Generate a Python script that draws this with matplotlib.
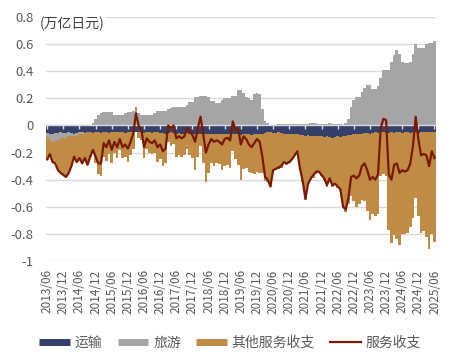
import matplotlib
matplotlib.use('Agg')
import matplotlib.pyplot as plt
from matplotlib.lines import Line2D
import numpy as np
import pandas as pd

plt.rcParams['font.family'] = ['Noto Sans CJK SC', 'DejaVu Sans']

# monthly, 2013/06 - 2025/06, unit: trillion yen
months = pd.date_range('2013-06-01', periods=145, freq='MS')

transport = [
    -0.055, -0.06, -0.06, -0.055, -0.055, -0.05, -0.055,
    -0.055, -0.05, -0.055, -0.06, -0.055, -0.05, -0.05, -0.055, -0.05, -0.05, -0.055, -0.05,
    -0.05, -0.055, -0.05, -0.05, -0.055, -0.05, -0.05, -0.045, -0.05, -0.05, -0.055, -0.05,
    -0.05, -0.05, -0.045, -0.05, -0.05, -0.055, -0.05, -0.05, -0.055, -0.05, -0.05, -0.055,
    -0.055, -0.06, -0.055, -0.05, -0.055, -0.06, -0.055, -0.06, -0.06, -0.055, -0.06, -0.06,
    -0.06, -0.065, -0.06, -0.06, -0.065, -0.06, -0.06, -0.065, -0.06, -0.065, -0.06, -0.065,
    -0.065, -0.06, -0.065, -0.06, -0.065, -0.07, -0.065, -0.06, -0.065, -0.07, -0.065, -0.06,
    -0.065, -0.06, -0.055, -0.05, -0.05, -0.055, -0.055, -0.05, -0.055, -0.06, -0.06, -0.065,
    -0.06, -0.065, -0.065, -0.07, -0.07, -0.075, -0.07, -0.075, -0.08, -0.075, -0.08, -0.08,
    -0.085, -0.08, -0.085, -0.09, -0.085, -0.08, -0.085, -0.08, -0.075, -0.07, -0.07, -0.065,
    -0.065, -0.06, -0.06, -0.055, -0.055, -0.06, -0.055, -0.05, -0.055, -0.05, -0.05, -0.055,
    -0.055, -0.05, -0.055, -0.05, -0.05, -0.055, -0.05, -0.05, -0.055, -0.05, -0.05, -0.055,
    -0.05, -0.05, -0.045, -0.05, -0.05, -0.045,
]

travel = [
    -0.03, -0.05, -0.06, -0.06, -0.05, -0.05, -0.04, -0.04, -0.03, -0.02,
    -0.02, -0.02, -0.01, -0.01, -0.01, 0.0, 0.005, 0.02, 0.05, 0.08,
    0.09, 0.10, 0.10, 0.10, 0.10, 0.08, 0.08, 0.08, 0.08, 0.09,
    0.10, 0.10, 0.11, 0.11, 0.09, 0.08, 0.08, 0.08, 0.08, 0.08,
    0.09, 0.11, 0.11, 0.11, 0.11, 0.12, 0.13, 0.14, 0.14, 0.14,
    0.14, 0.14, 0.15, 0.17, 0.17, 0.21, 0.21, 0.22, 0.22, 0.22,
    0.21, 0.18, 0.18, 0.165, 0.165, 0.19, 0.20, 0.20, 0.20, 0.22,
    0.22, 0.26, 0.26, 0.24, 0.21, 0.20, 0.19, 0.23, 0.24, 0.23,
    0.12, 0.03, 0.015, 0.005, 0.005, 0.005, 0.008, 0.01, 0.01, 0.012,
    0.01, 0.008, 0.008, 0.01, 0.01, 0.01, 0.012, 0.012, 0.015, 0.02,
    0.015, 0.012, 0.01, 0.01, 0.012, 0.015, 0.012, 0.008, 0.01, 0.01,
    0.005, 0.02, 0.05, 0.14, 0.19, 0.21, 0.21, 0.25, 0.28, 0.30,
    0.30, 0.27, 0.27, 0.29, 0.35, 0.41, 0.41, 0.41, 0.47, 0.52,
    0.56, 0.53, 0.47, 0.46, 0.46, 0.47, 0.53, 0.60, 0.57, 0.57,
    0.57, 0.60, 0.61, 0.61, 0.62,
]

# services balance (line)
services = [
    -0.25, -0.21, -0.27, -0.28, -0.33, -0.35, -0.365, -0.38, -0.35, -0.30,
    -0.23, -0.27, -0.24, -0.28, -0.24, -0.29, -0.23, -0.18, -0.23, -0.28,
    -0.28, -0.13, -0.16, -0.11, -0.18, -0.12, -0.16, -0.10, -0.16, -0.14,
    -0.17, -0.12, -0.06, 0.09, 0.0, -0.03, -0.16, -0.095, -0.12, -0.13,
    -0.11, -0.16, -0.14, -0.19, -0.17, 0.0, -0.02, 0.0, -0.095, -0.08,
    -0.095, -0.08, -0.02, -0.045, -0.07, -0.12, -0.02, 0.065, -0.06, -0.20,
    -0.14, -0.10, -0.12, -0.11, -0.12, -0.14, -0.10, -0.09, -0.11, 0.03,
    -0.03, -0.03, -0.14, -0.08, -0.10, -0.14, -0.16, -0.13, -0.10, -0.12,
    -0.23, -0.38, -0.40, -0.45, -0.33, -0.32, -0.31, -0.30, -0.27, -0.28,
    -0.27, -0.25, -0.22, -0.19, -0.32, -0.41, -0.54, -0.43, -0.39, -0.365,
    -0.34, -0.34, -0.365, -0.39, -0.44, -0.39, -0.44, -0.43, -0.45, -0.47,
    -0.60, -0.62, -0.53, -0.38, -0.37, -0.39, -0.37, -0.30, -0.28, -0.33,
    -0.40, -0.38, -0.40, -0.36, -0.02, 0.05, 0.04, -0.36, -0.40, -0.29,
    -0.28, -0.35, -0.33, -0.34, -0.33, -0.28, -0.15, 0.065, -0.10, -0.22,
    -0.21, -0.22, -0.30, -0.19, -0.24,
]

transport = np.array(transport)
travel = np.array(travel)
services = np.array(services)
other = services - transport - travel  # 其他服务收支

colors = {'运输': '#35406a', '旅游': '#a5a5a5', '其他服务收支': '#c08b45'}
line_color = '#7b1a00'
text_color = '#595959'
grid_color = '#d9d9d9'

fig = plt.figure(figsize=(4.54, 3.64), dpi=100)
ax = fig.add_axes([0.101, 0.283, 0.859, 0.670])

x = np.arange(len(months))
pos_base = np.zeros(len(x))
neg_base = np.zeros(len(x))
for name, vals in [('运输', transport), ('旅游', travel), ('其他服务收支', other)]:
    bottom = np.where(vals >= 0, pos_base, neg_base)
    ax.bar(x, vals, bottom=bottom, width=1.0, color=colors[name], linewidth=0, zorder=2)
    pos_base = pos_base + np.clip(vals, 0, None)
    neg_base = neg_base + np.clip(vals, None, 0)

ax.plot(x, services, color=line_color, lw=1.6, zorder=4)

# zero line with small category ticks
tick_pos = x[::6]
ax.axhline(0, color=grid_color, lw=1, zorder=3)
ax.plot(tick_pos, np.zeros(len(tick_pos)), ls='none', marker=3, ms=3,
        color=grid_color, mew=1, zorder=3)

yticks = [0.8, 0.6, 0.4, 0.2, 0, -0.2, -0.4, -0.6, -0.8, -1]
ax.set_ylim(-1, 0.8)
ax.set_yticks(yticks)
ax.set_yticklabels(['0' if v == 0 else f'{v:g}' for v in yticks])
ax.grid(axis='y', color=grid_color, lw=1, zorder=0)
ax.set_axisbelow(True)

ax.set_xlim(-0.5, len(x) - 0.5)
ax.set_xticks(tick_pos)
ax.set_xticklabels([m.strftime('%Y/%m') for m in months[::6]], rotation=90)

for s in ax.spines.values():
    s.set_visible(False)
ax.tick_params(axis='y', length=0, pad=9, labelsize=9.5, labelcolor=text_color)
ax.tick_params(axis='x', length=0, pad=6, labelsize=8.5, labelcolor=text_color)

fig.text(0.088, 0.934, '(万亿日元)', fontsize=10, color='#404040', va='center', ha='left',
         bbox=dict(facecolor='white', edgecolor='none', pad=1))

handles = [
    Line2D([], [], color=colors['运输'], lw=5, solid_capstyle='butt'),
    Line2D([], [], color=colors['旅游'], lw=5, solid_capstyle='butt'),
    Line2D([], [], color=colors['其他服务收支'], lw=5, solid_capstyle='butt'),
    Line2D([], [], color=line_color, lw=1.6),
]
fig.legend(handles, ['运输', '旅游', '其他服务收支', '服务收支'], loc='center',
           bbox_to_anchor=(0.507, 0.058), ncol=4, frameon=False, fontsize=10,
           handlelength=2.2, handletextpad=0.35, columnspacing=1.1,
           labelcolor=text_color)

fig.savefig('out.png', dpi=100)
